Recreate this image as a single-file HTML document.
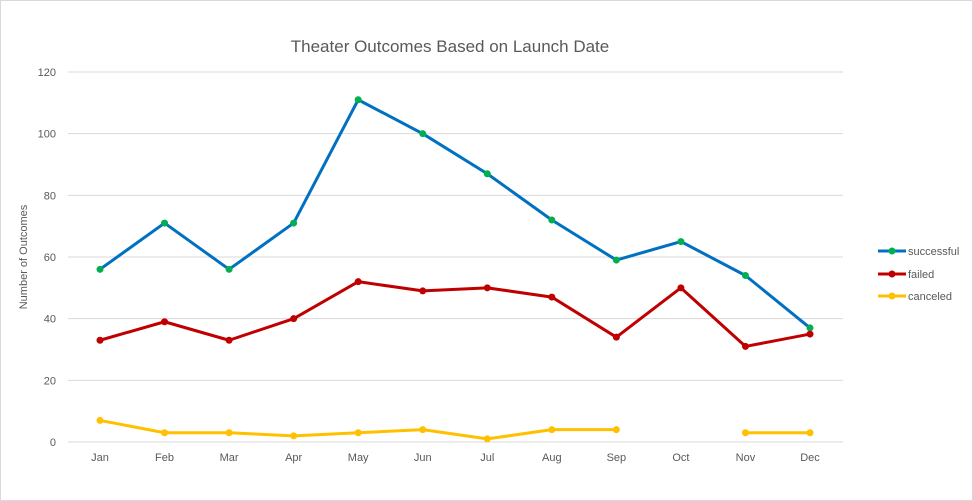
<!DOCTYPE html>
<html><head><meta charset="utf-8"><style>
body{margin:0;background:#fff}
svg{display:block;font-family:"Liberation Sans",sans-serif}
</style></head><body>
<svg width="973" height="501">
<rect x="0.5" y="0.5" width="972" height="500" fill="#fff" stroke="#d9d9d9"/>
<text x="450" y="52" text-anchor="middle" font-size="17" fill="#595959">Theater Outcomes Based on Launch Date</text>
<text transform="translate(27,257) rotate(-90)" text-anchor="middle" font-size="11" fill="#595959">Number of Outcomes</text>
<g id="grid"></g><g id="series"></g>
<g font-size="11" fill="#595959">
<g><line x1="878" y1="251" x2="906" y2="251" stroke="#0070c0" stroke-width="3"/><circle cx="892" cy="251" r="3.5" fill="#00b050"/><text x="908" y="255">successful</text></g>
<g><line x1="878" y1="274" x2="906" y2="274" stroke="#c00000" stroke-width="3"/><circle cx="892" cy="274" r="3.5" fill="#c00000"/><text x="908" y="278">failed</text></g>
<g><line x1="878" y1="296" x2="906" y2="296" stroke="#ffc000" stroke-width="3"/><circle cx="892" cy="296" r="3.5" fill="#ffc000"/><text x="908" y="300">canceled</text></g>
</g>
</svg>
<script>
const months=["Jan","Feb","Mar","Apr","May","Jun","Jul","Aug","Sep","Oct","Nov","Dec"];
const successful=[56,71,56,71,111,100,87,72,59,65,54,37];
const failed=[33,39,33,40,52,49,50,47,34,50,31,35];
const canceled=[7,3,3,2,3,4,1,4,4,null,3,3];
const yTicks=[0,20,40,60,80,100,120];
const NS="http://www.w3.org/2000/svg";
const x=i=>100+i*(710/11);
const y=v=>442-v*(370/120);
function mk(t,a,p){const e=document.createElementNS(NS,t);for(const k in a)e.setAttribute(k,a[k]);p.appendChild(e);return e;}
const g=document.getElementById('grid');
yTicks.forEach(v=>{
 const l=mk('line',{x1:68,x2:843,y1:y(v),y2:y(v),stroke:'#d9d9d9','stroke-width':1},g);
 
 
 const t=mk('text',{x:56,y:y(v)+4,'text-anchor':'end','font-size':11,fill:'#595959'},g);t.textContent=v;
 
 
});
months.forEach((m,i)=>{
 const t=mk('text',{x:x(i),y:461,'text-anchor':'middle','font-size':11,fill:'#595959'},g);t.textContent=m;
 
 
});
const s=document.getElementById('series');
function draw(name,data,col,mcol){
 const grp=mk('g',{},s);
 
 
 let d='',pen=false;
 data.forEach((v,i)=>{if(v==null){pen=false;return;}d+=(pen?'L':'M')+x(i)+' '+y(v)+' ';pen=true;});
 mk('path',{d:d,fill:'none',stroke:col,'stroke-width':3,'stroke-linejoin':'round'},grp);
 data.forEach((v,i)=>{if(v==null)return;
  const c=mk('circle',{cx:x(i),cy:y(v),r:3.5,fill:mcol},grp);
  
  
 });
}
draw('successful',successful,'#0070c0','#00b050');
draw('failed',failed,'#c00000','#c00000');
draw('canceled',canceled,'#ffc000','#ffc000');
</script>
</body></html>
